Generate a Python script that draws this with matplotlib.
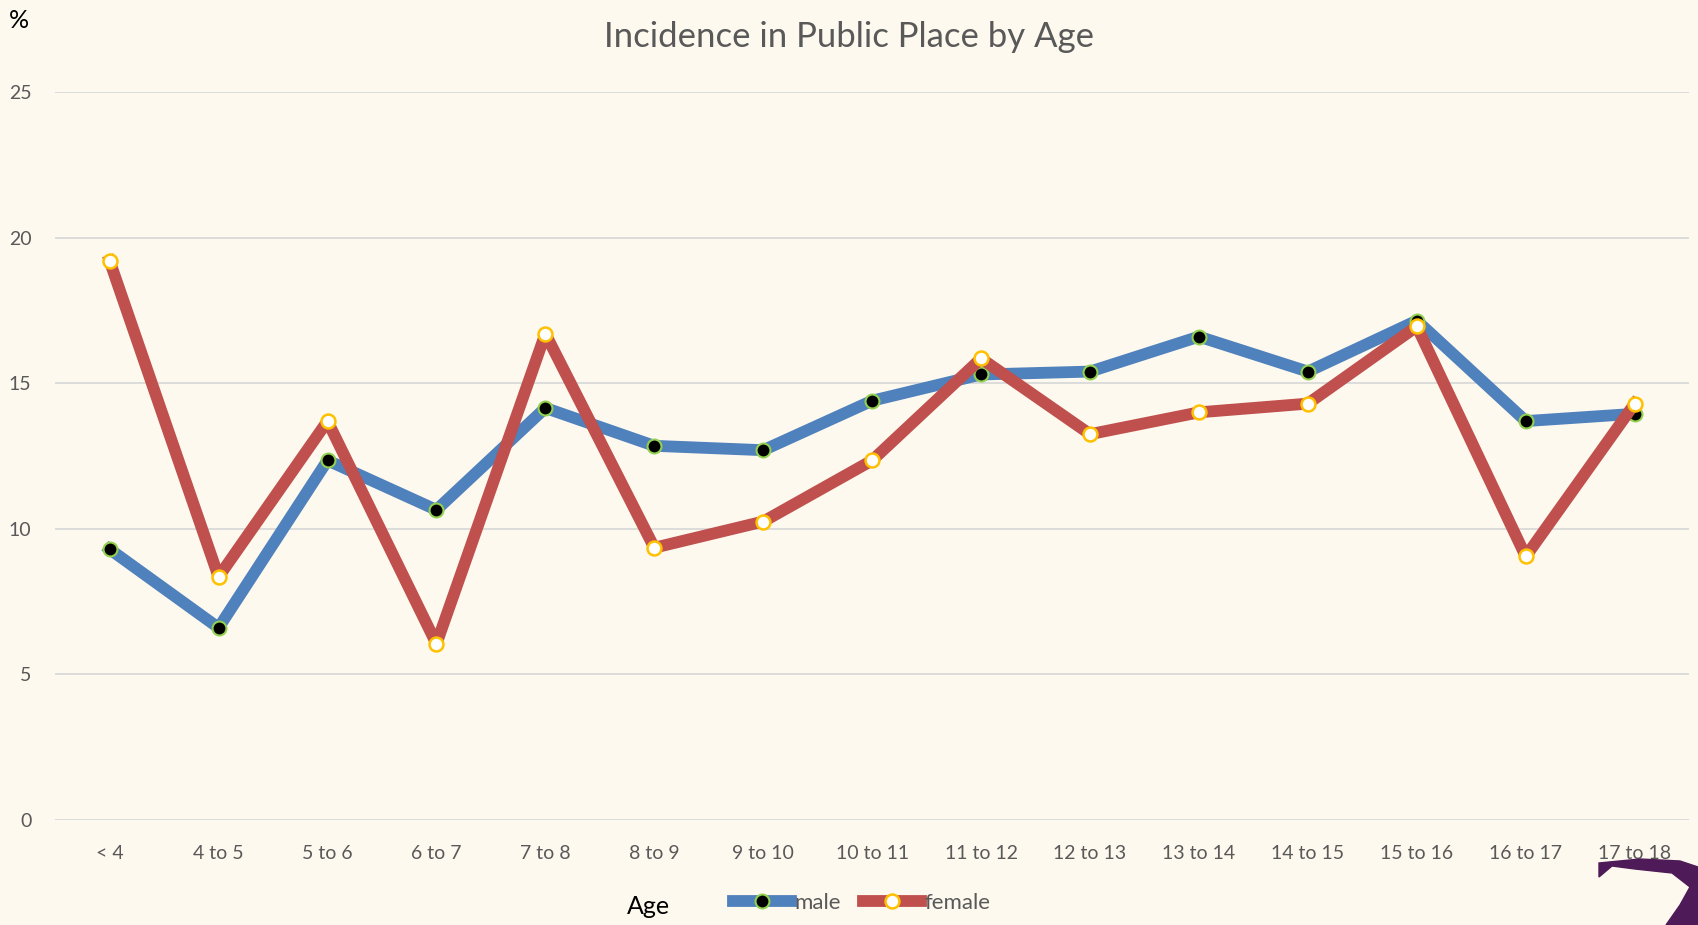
import matplotlib.pyplot as plt
from matplotlib.patches import Polygon

ages = ["< 4", "4 to 5", "5 to 6", "6 to 7", "7 to 8", "8 to 9", "9 to 10", "10 to 11",
        "11 to 12", "12 to 13", "13 to 14", "14 to 15", "15 to 16", "16 to 17", "17 to 18"]
male = [9.3, 6.6, 12.35, 10.65, 14.15, 12.85, 12.7, 14.4, 15.3, 15.4, 16.6, 15.4, 17.15, 13.7, 13.95]
female = [19.2, 8.35, 13.7, 6.05, 16.7, 9.35, 10.25, 12.35, 15.85, 13.25, 14.0, 14.3, 16.95, 9.05, 14.3]

bg = "#FEF9EE"
grey = "#595959"
plt.rcParams['font.family'] = ['Lato', 'DejaVu Sans']

fig = plt.figure(figsize=(16.98, 9.25), dpi=100, facecolor=bg)
ax = fig.add_axes([0.0325, 0.1135, 0.9623, 0.787])
ax.set_facecolor(bg)

x = range(len(ages))
ax.plot(x, male, color="#4F81BD", lw=8.5, marker="o", ms=10, mfc="black",
        mec="#92D050", mew=1.5, solid_joinstyle="round", label="male", zorder=3)
ax.plot(x, female, color="#C0504D", lw=8.5, marker="o", ms=10, mfc="white",
        mec="#FFC000", mew=1.8, solid_joinstyle="round", label="female", zorder=4)

ax.set_xlim(-0.5, len(ages) - 0.5)
ax.set_ylim(0, 25)
ax.set_yticks([0, 5, 10, 15, 20, 25])
ax.set_xticks(list(x))
ax.set_xticklabels(ages)
ax.grid(axis="y", color="#D9D9D9", lw=1.3)
ax.set_axisbelow(True)
for s in ax.spines.values():
    s.set_visible(False)
ax.tick_params(length=0, colors=grey, labelsize=14)
ax.tick_params(axis="y", pad=17)
ax.tick_params(axis="x", pad=18)

fig.text(0.5, 0.96, "Incidence in Public Place by Age", ha="center", va="center",
         fontsize=25, color=grey)
fig.text(0.005, 0.978, "%", ha="left", va="center", fontsize=18, color="black")
fig.text(0.382, 0.02, "Age", ha="center", va="center", fontsize=18, color="black")

leg = fig.legend(loc="center left", bbox_to_anchor=(0.42, 0.024), ncol=2, frameon=False,
                 fontsize=16, handlelength=2.6, handletextpad=0.15, columnspacing=1.0)
for t in leg.get_texts():
    t.set_color(grey)

# decorative corner shape (pixel coords -> figure fraction)
W, H = 1698, 925
pts = [(1599, 863), (1640, 859), (1680, 861), (1698, 867), (1698, 925), (1666, 925),
       (1680, 905), (1690, 887), (1672, 873), (1635, 869), (1612, 866), (1599, 877)]
fig.patches.append(Polygon([(px / W, 1 - py / H) for px, py in pts], closed=True,
                           transform=fig.transFigure, color="#4E1A57"))

fig.savefig("out.png", dpi=100, facecolor=bg)
